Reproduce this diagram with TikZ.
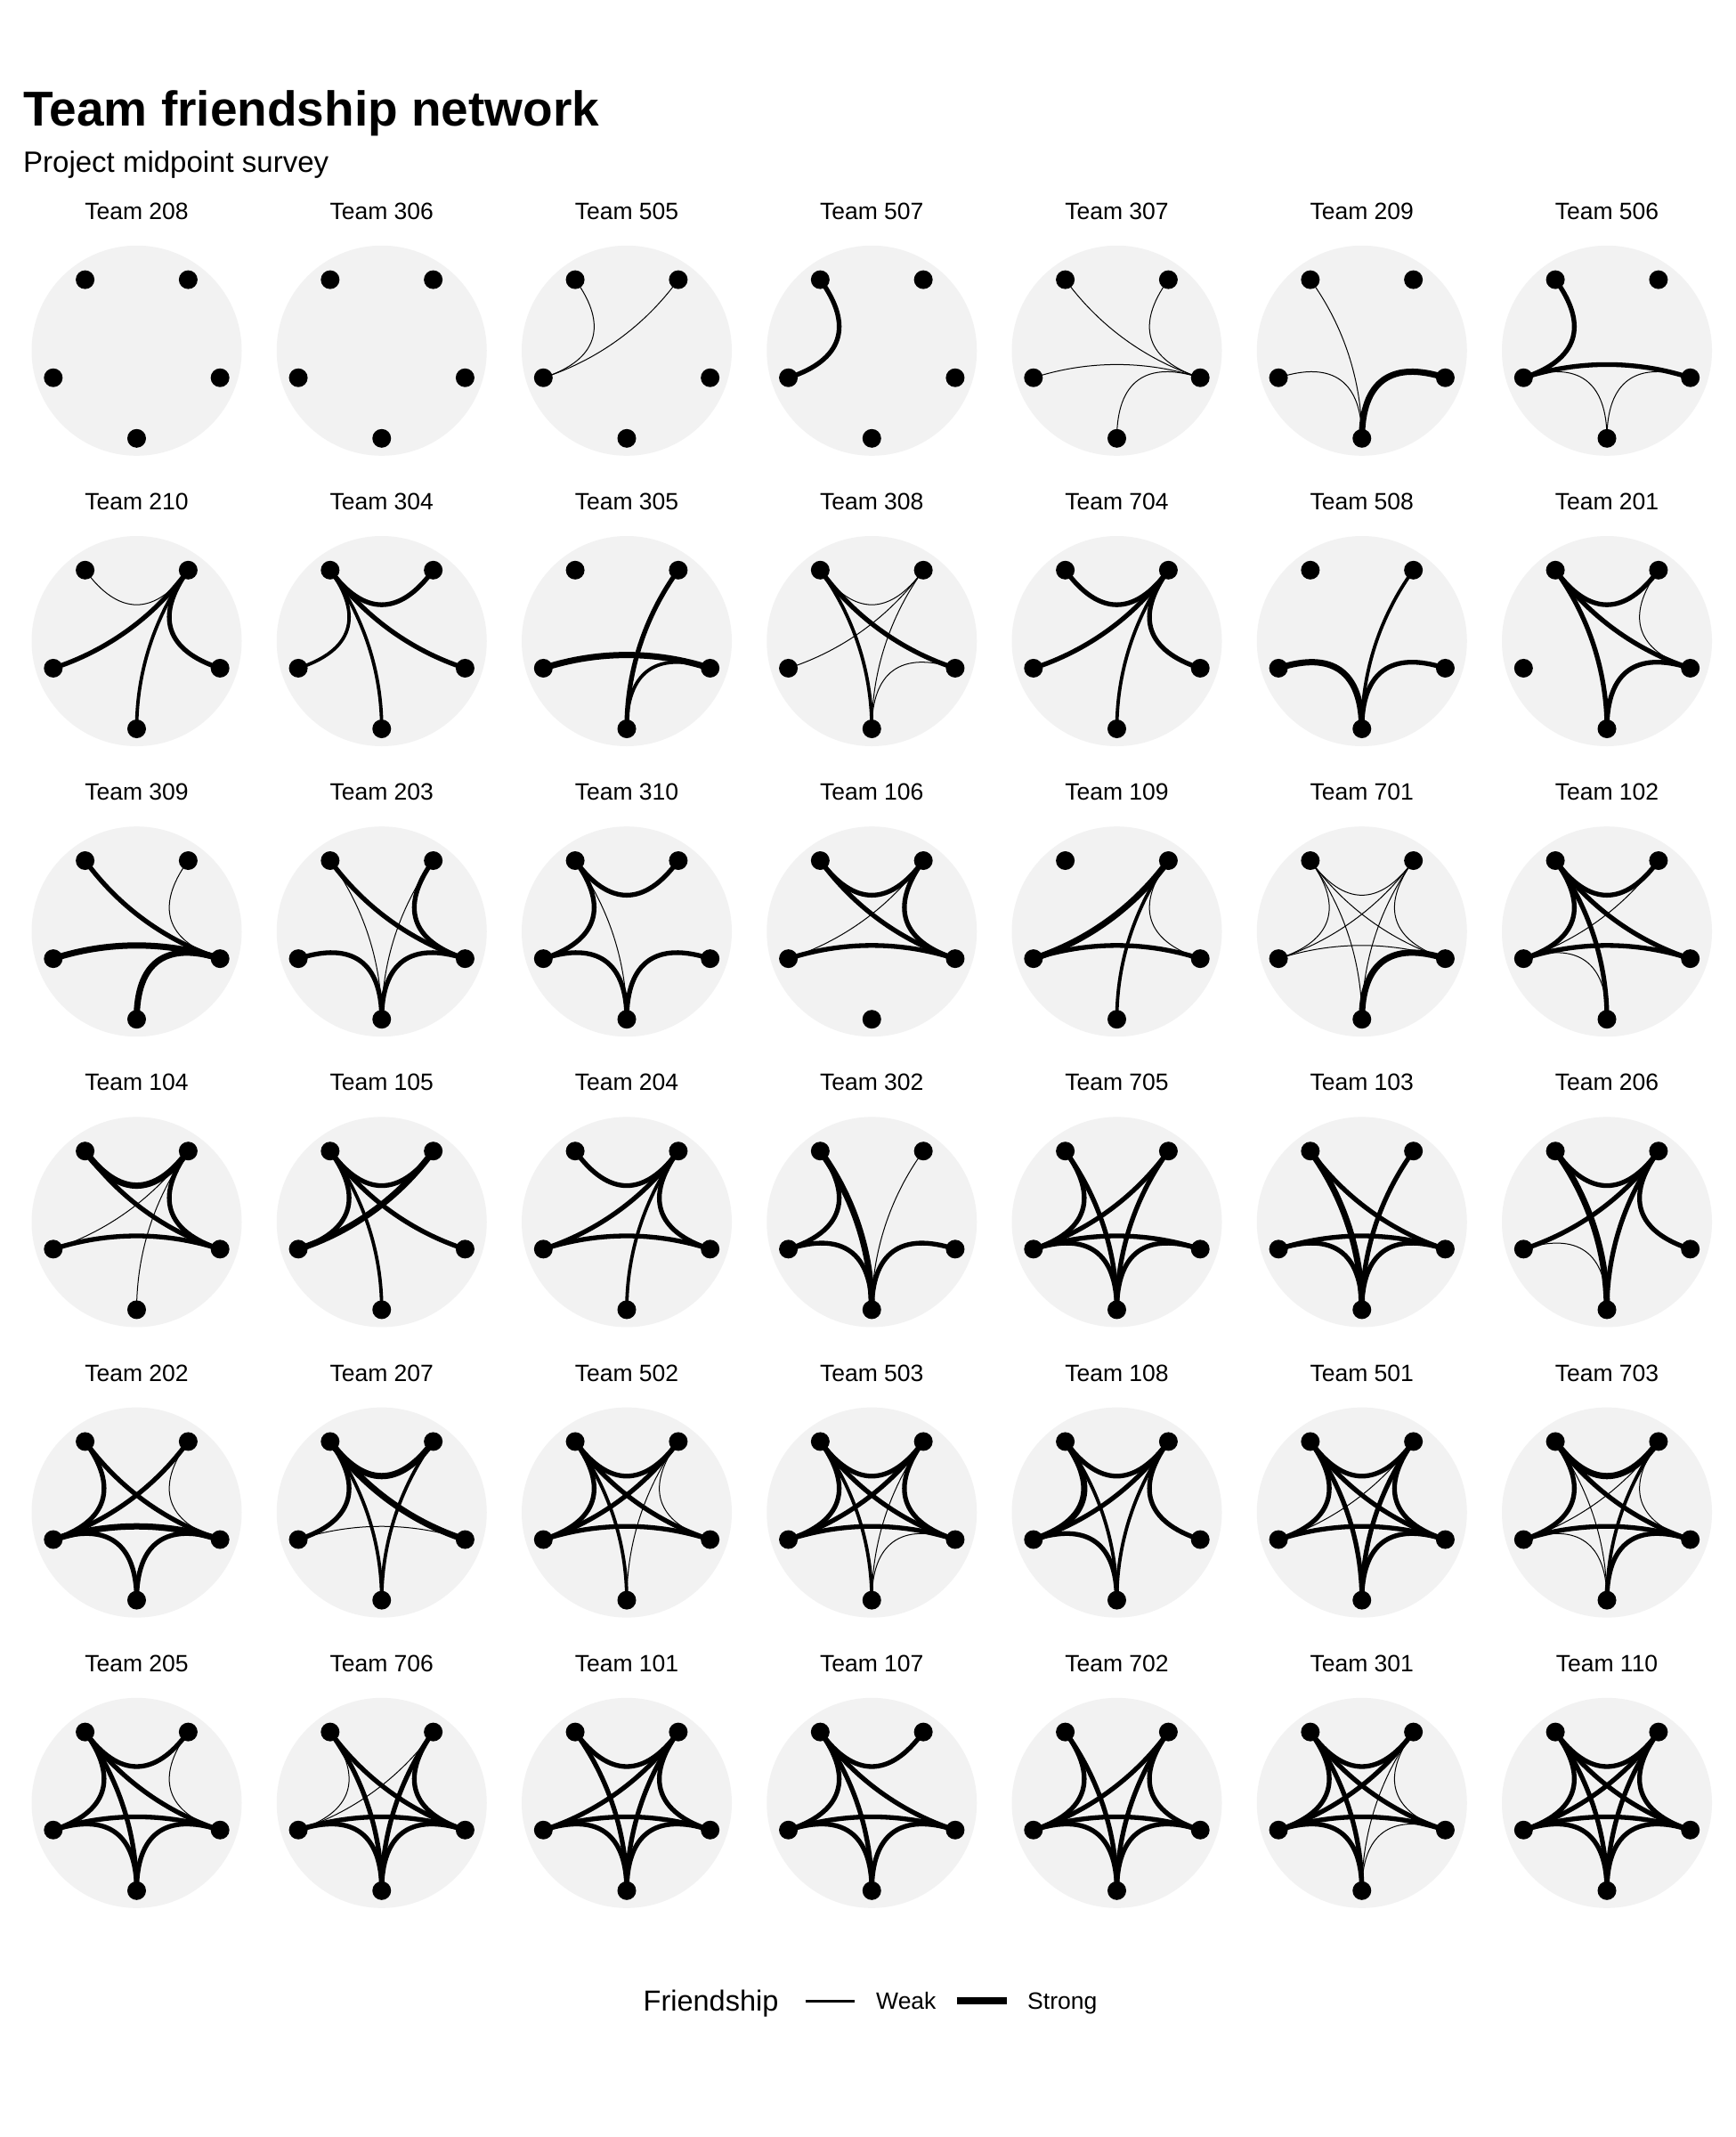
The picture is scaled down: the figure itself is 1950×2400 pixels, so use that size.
\documentclass[tikz,border=0pt]{standalone}
\usepackage{fontspec}
\setmainfont{Liberation Sans}
\usetikzlibrary{calc}
\pgfdeclarelayer{bg}
\pgfdeclarelayer{edges}
\pgfsetlayers{bg,edges,main}
\definecolor{discgray}{HTML}{F2F2F2}
\newcommand{\kk}{0.35}
\tikzset{
  disc/.style={circle, fill=discgray, inner sep=0pt, minimum size=236pt},
  dot/.style={circle, fill=black, inner sep=0pt, minimum size=21pt},
  ptitle/.style={anchor=base, inner sep=0pt, font=\fontsize{26.5}{30}\selectfont},
  eh/.style={line width=1pt},
  em/.style={line width=3.8pt},
  et/.style={line width=5.3pt},
  ex/.style={line width=7pt},
  legtext/.style={anchor=base west, inner sep=0pt, font=\fontsize{26.5}{30}\selectfont},
}
\newcommand{\panel}[4]{%
  \coordinate (#1o) at (#2,#3);
  \begin{pgfonlayer}{bg}
    \node[disc] (#1g) at (#1o) {};
  \end{pgfonlayer}
  \node[ptitle] (#1t) at ($(#1o)+(0,-147.5)$) {#4};
  \foreach \ang/\nm in {-126/a,-54/b,18/c,90/d,162/e}
    \node[dot] (#1\nm) at ($(#1o)+(\ang:98.5)$) {};
}
\newcommand{\edges}[2]{%
  \begin{pgfonlayer}{edges}
  \foreach \u/\v/\w in {#2}
    \draw[\w] (#1\u.center) .. controls ($(#1o)!\kk!(#1\u.center)$) and ($(#1o)!\kk!(#1\v.center)$) .. (#1\v.center);
  \end{pgfonlayer}
}
\newcommand{\cx}[1]{153.5+275.25*#1}
\newcommand{\ry}[1]{393.8+326.2*#1}
\begin{document}
\begin{tikzpicture}[x=1pt,y=-1pt]
\begin{pgfonlayer}{bg}
\fill[white] (0,0) rectangle (1950,2400);
\end{pgfonlayer}
\useasboundingbox (0,0) rectangle (1950,2400);
\node[anchor=base west, inner sep=0pt, font=\fontsize{55}{60}\selectfont\bfseries] (title) at (26,142) {Team friendship network};
\node[anchor=base west, inner sep=0pt, font=\fontsize{33}{40}\selectfont] (subtitle) at (26,194) {Project midpoint survey};
% row 0
\panel{p1}{\cx{0}}{\ry{0}}{Team 208}
\panel{p2}{\cx{1}}{\ry{0}}{Team 306}
\panel{p3}{\cx{2}}{\ry{0}}{Team 505}
\edges{p3}{e/a/eh, e/b/eh}
\panel{p4}{\cx{3}}{\ry{0}}{Team 507}
\edges{p4}{a/e/et}
\panel{p5}{\cx{4}}{\ry{0}}{Team 307}
\edges{p5}{a/c/eh, b/c/eh, e/c/eh, d/c/eh}
\panel{p6}{\cx{5}}{\ry{0}}{Team 209}
\edges{p6}{a/d/eh, e/d/eh, c/d/ex}
\panel{p7}{\cx{6}}{\ry{0}}{Team 506}
\edges{p7}{a/e/et, e/c/et, e/d/eh, c/d/eh}
% row 1
\panel{p8}{\cx{0}}{\ry{1}}{Team 210}
\edges{p8}{a/b/eh, b/e/et, b/d/em, b/c/et}
\panel{p9}{\cx{1}}{\ry{1}}{Team 304}
\edges{p9}{a/b/et, a/e/em, a/d/em, a/c/et}
\panel{p10}{\cx{2}}{\ry{1}}{Team 305}
\edges{p10}{e/c/ex, b/d/et, c/d/em}
\panel{p11}{\cx{3}}{\ry{1}}{Team 308}
\edges{p11}{a/b/eh, a/d/em, a/c/et, b/e/eh, b/d/eh, c/d/eh}
\panel{p12}{\cx{4}}{\ry{1}}{Team 704}
\edges{p12}{a/b/et, b/e/et, b/d/em, b/c/et}
\panel{p13}{\cx{5}}{\ry{1}}{Team 508}
\edges{p13}{e/d/ex, b/d/em, c/d/et}
\panel{p14}{\cx{6}}{\ry{1}}{Team 201}
\edges{p14}{a/b/et, a/d/et, a/c/et, b/c/eh, c/d/et}
% row 2
\panel{p15}{\cx{0}}{\ry{2}}{Team 309}
\edges{p15}{a/c/et, b/c/eh, e/c/ex, d/c/ex}
\panel{p16}{\cx{1}}{\ry{2}}{Team 203}
\edges{p16}{a/c/et, a/d/eh, b/d/eh, b/c/et, e/d/et, c/d/et}
\panel{p17}{\cx{2}}{\ry{2}}{Team 310}
\edges{p17}{a/b/et, a/e/et, a/d/eh, e/d/et, c/d/et}
\panel{p18}{\cx{3}}{\ry{2}}{Team 106}
\edges{p18}{a/b/et, a/c/et, b/e/eh, b/c/et, e/c/et}
\panel{p19}{\cx{4}}{\ry{2}}{Team 109}
\edges{p19}{b/e/ex, b/d/em, b/c/eh, e/c/et}
\panel{p20}{\cx{5}}{\ry{2}}{Team 701}
\edges{p20}{a/b/eh, a/e/eh, a/d/eh, a/c/eh, b/e/eh, b/d/eh, b/c/eh, e/c/eh, c/d/ex}
\panel{p21}{\cx{6}}{\ry{2}}{Team 102}
\edges{p21}{a/b/et, a/e/et, a/d/et, a/c/et, b/e/eh, e/c/et, e/d/eh}
% row 3
\panel{p22}{\cx{0}}{\ry{3}}{Team 104}
\edges{p22}{a/b/ex, a/c/et, b/c/et, b/e/eh, b/d/eh, e/c/et}
\panel{p23}{\cx{1}}{\ry{3}}{Team 105}
\edges{p23}{a/b/et, a/e/et, a/d/em, a/c/et, b/e/ex}
\panel{p24}{\cx{2}}{\ry{3}}{Team 204}
\edges{p24}{a/b/et, b/e/et, b/d/em, b/c/et, e/c/et}
\panel{p25}{\cx{3}}{\ry{3}}{Team 302}
\edges{p25}{a/e/et, a/d/ex, b/d/eh, e/d/et, c/d/et}
\panel{p26}{\cx{4}}{\ry{3}}{Team 705}
\edges{p26}{a/e/et, a/d/et, b/e/et, b/d/et, e/c/et, e/d/et, c/d/et}
\panel{p27}{\cx{5}}{\ry{3}}{Team 103}
\edges{p27}{a/d/ex, a/c/et, b/d/et, e/c/et, e/d/et, c/d/et}
\panel{p28}{\cx{6}}{\ry{3}}{Team 206}
\edges{p28}{a/b/et, a/d/ex, b/e/et, b/d/et, b/c/et, e/d/eh}
% row 4
\panel{p29}{\cx{0}}{\ry{4}}{Team 202}
\edges{p29}{a/e/et, a/c/et, b/e/et, b/c/eh, e/c/ex, e/d/et, c/d/et}
\panel{p30}{\cx{1}}{\ry{4}}{Team 207}
\edges{p30}{a/b/ex, a/e/et, a/d/em, a/c/ex, b/d/em, e/c/eh}
\panel{p31}{\cx{2}}{\ry{4}}{Team 502}
\edges{p31}{a/b/et, a/e/et, a/d/em, a/c/et, b/e/et, b/d/eh, b/c/eh, e/c/et}
\panel{p32}{\cx{3}}{\ry{4}}{Team 503}
\edges{p32}{a/b/et, a/e/et, a/d/em, a/c/et, b/e/et, b/d/eh, b/c/et, e/c/et, c/d/eh}
\panel{p33}{\cx{4}}{\ry{4}}{Team 108}
\edges{p33}{a/b/et, a/e/ex, a/d/em, b/e/et, b/d/em, b/c/et, e/d/et}
\panel{p34}{\cx{5}}{\ry{4}}{Team 501}
\edges{p34}{a/b/et, a/e/et, a/d/et, a/c/et, b/e/eh, b/d/et, b/c/et, e/c/et, c/d/et}
\panel{p35}{\cx{6}}{\ry{4}}{Team 703}
\edges{p35}{a/b/ex, a/e/et, a/d/eh, a/c/et, b/e/eh, b/d/em, b/c/eh, e/c/et, e/d/eh, c/d/et}
% row 5
\panel{p36}{\cx{0}}{\ry{5}}{Team 205}
\edges{p36}{a/b/et, a/e/et, a/d/et, a/c/et, b/c/eh, e/c/et, e/d/et, c/d/et}
\panel{p37}{\cx{1}}{\ry{5}}{Team 706}
\edges{p37}{a/e/eh, a/d/et, a/c/et, b/e/eh, b/d/et, b/c/et, e/c/et, e/d/et, c/d/et}
\panel{p38}{\cx{2}}{\ry{5}}{Team 101}
\edges{p38}{a/b/et, a/d/et, b/e/et, b/d/et, b/c/et, e/c/et, e/d/et, c/d/et}
\panel{p39}{\cx{3}}{\ry{5}}{Team 107}
\edges{p39}{a/b/et, a/e/et, a/d/et, a/c/et, e/c/et, e/d/et, c/d/et}
\panel{p40}{\cx{4}}{\ry{5}}{Team 702}
\edges{p40}{a/e/et, a/d/et, b/e/et, b/d/et, b/c/et, e/c/et, e/d/et, c/d/et}
\panel{p41}{\cx{5}}{\ry{5}}{Team 301}
\edges{p41}{a/b/et, a/e/et, a/d/et, a/c/et, b/e/et, b/d/eh, b/c/eh, e/c/et, e/d/et, c/d/eh}
\panel{p42}{\cx{6}}{\ry{5}}{Team 110}
\edges{p42}{a/b/et, a/e/et, a/d/et, a/c/et, b/e/et, b/d/et, b/c/et, e/c/et, e/d/et, c/d/et}
% legend
\node[anchor=base west, inner sep=0pt, font=\fontsize{32.5}{36}\selectfont] (legtitle) at (722.5,2258) {Friendship};
\coordinate (wk1) at (904.6,2247);
\coordinate (wk2) at (959.7,2247);
\draw[line width=3pt] (wk1) -- (wk2);
\node[legtext] (wklab) at (984,2256.5) {Weak};
\coordinate (st1) at (1074.5,2247);
\coordinate (st2) at (1131,2247);
\draw[line width=7.5pt] (st1) -- (st2);
\node[legtext] (stlab) at (1154,2256.5) {Strong};
\end{tikzpicture}
\end{document}
